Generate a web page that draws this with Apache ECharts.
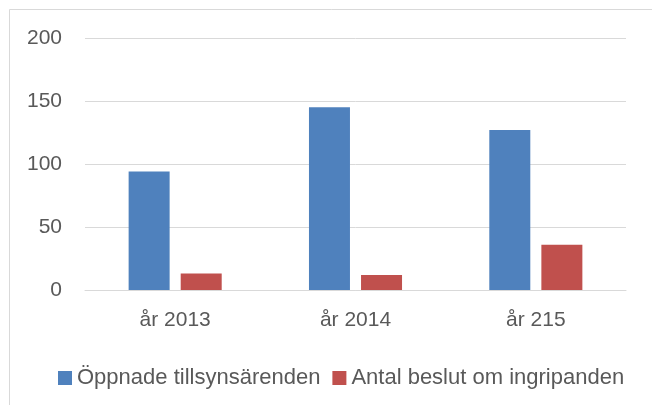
<!DOCTYPE html>
<html>
<head>
    <meta charset="UTF-8">
    <title>Tillsynsärenden</title>
    <script src="https://cdn.jsdelivr.net/npm/echarts@6/dist/echarts.min.js"></script>
    <style type="text/css">
    * { margin: 0; padding: 0; }
    body { background-color: #ffffff; }
    #chart { width: 652px; height: 405px; }
    </style>
</head>
<body>
<div id="chart"></div>
<script>
    // data
    var years = ['år 2013', 'år 2014', 'år 215'];
    var oppnade = [94, 145, 127];
    var beslut = [13, 12, 36];
    var yTicks = {min: 0, max: 200, step: 50};

    var textColor = '#595959';
    var fontFam = '"Liberation Sans", Arial, sans-serif';

    var chart = echarts.init(document.getElementById('chart'), null, {renderer: 'canvas'});

    chart.setOption({
        animation: false,
        backgroundColor: '#ffffff',
        // outer frame, cut off at right and bottom like the picture
        graphic: [{
            type: 'rect',
            shape: {x: 9.5, y: 9.5, width: 800, height: 600},
            style: {fill: 'none', stroke: '#d9d9d9', lineWidth: 1},
            silent: true
        }],
        grid: {left: 85, right: 26, top: 38, bottom: 115},
        legend: {
            left: 53,
            top: 362,
            itemWidth: 14,
            itemHeight: 14,
            itemGap: 12,
            icon: 'rect',
            textStyle: {color: textColor, fontSize: 22, fontFamily: fontFam},
            data: ['Öppnade tillsynsärenden', 'Antal beslut om ingripanden']
        },
        xAxis: {
            type: 'category',
            data: years,
            axisLine: {lineStyle: {color: '#d9d9d9', width: 1}},
            axisTick: {show: false},
            axisLabel: {color: textColor, fontSize: 21, fontFamily: fontFam, margin: 20}
        },
        yAxis: {
            type: 'value',
            min: yTicks.min,
            max: yTicks.max,
            interval: yTicks.step,
            axisLine: {show: false},
            axisTick: {show: false},
            splitLine: {lineStyle: {color: '#d9d9d9', width: 1}},
            axisLabel: {color: textColor, fontSize: 21, fontFamily: fontFam, margin: 23}
        },
        series: [
            {
                name: 'Öppnade tillsynsärenden',
                type: 'bar',
                data: oppnade,
                barWidth: 41,
                barGap: '27%',
                itemStyle: {color: '#4f81bd'}
            },
            {
                name: 'Antal beslut om ingripanden',
                type: 'bar',
                data: beslut,
                barWidth: 41,
                itemStyle: {color: '#c0504d'}
            }
        ]
    });
</script>
</body>
</html>
